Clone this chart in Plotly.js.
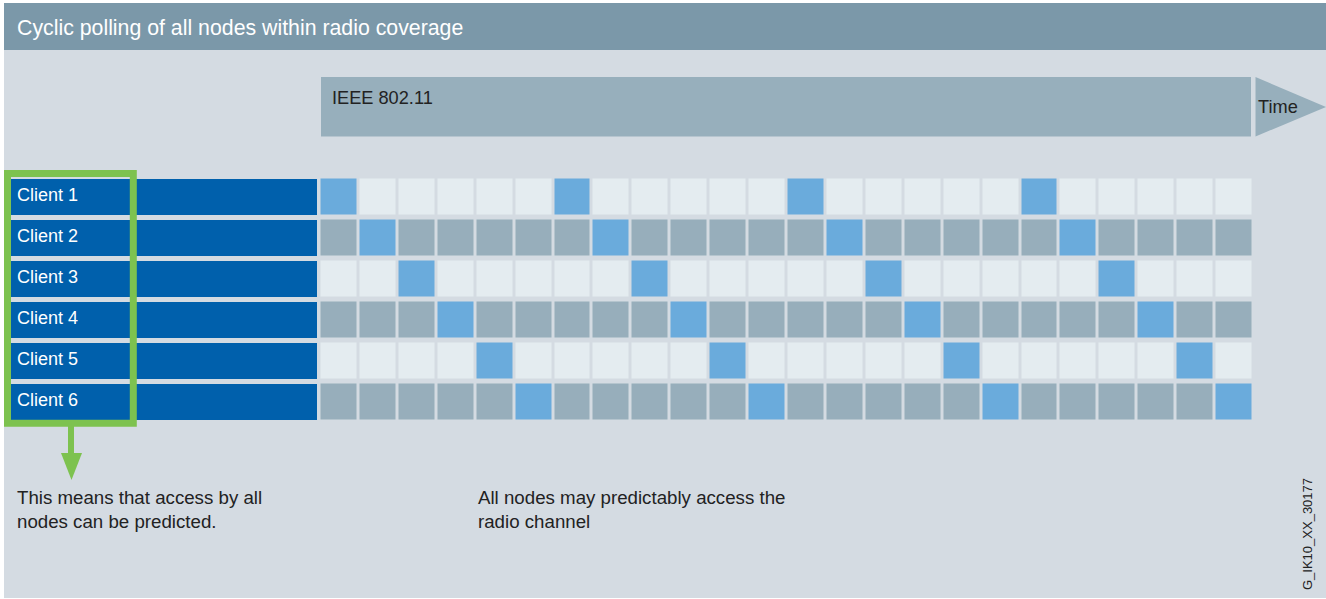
<!DOCTYPE html>
<html><head><meta charset="utf-8">
<script src="https://cdn.plot.ly/plotly-3.0.1.min.js"></script>
<style>html,body{margin:0;padding:0;background:#fff;}</style>
</head><body>
<div id="chart" style="width:1326px;height:599px"></div>
<script>
// ---- data ----
const clients = ['Client 1', 'Client 2', 'Client 3', 'Client 4', 'Client 5', 'Client 6'];
const timeSlots = [1,2,3,4,5,6,7,8,9,10,11,12,13,14,15,16,17,18,19,20,21,22,23,24];
// which client is polled in each time slot
const polledClient = [1,2,3,4,5,6,1,2,3,4,5,6,1,2,3,4,5,6,1,2,3,4,5,6];
const titleText = 'Cyclic polling of all nodes within radio coverage';
const protocolLabel = 'IEEE 802.11';
const timeLabel = 'Time';
const noteLeft = ['This means that access by all', 'nodes can be predicted.'];
const noteRight = ['All nodes may predictably access the', 'radio channel'];
const figureCode = 'G_IK10_XX_30177';

// ---- helpers ----
const W = 1326, H = 599;
const px = x => x / W;
const py = y => 1 - y / H;

// z: 0 = idle (light row), 1 = idle (dark row), 2 = polled
const z = clients.map((c, r) => timeSlots.map((s, i) => polledClient[i] === r + 1 ? 2 : (r % 2)));

const C = {
  panel: '#d4dbe2', header: '#7b98a9', bar: '#97afbc', light: '#e4ecf0', dark: '#97aebb',
  hi: '#6aabdc', blue: '#0060ac', green: '#7dc24f', text: '#222222'
};
const FONT = 'Liberation Sans, Arial, sans-serif';

const heat = {
  type: 'heatmap', x: timeSlots, y: clients, z: z, xaxis: 'x2', yaxis: 'y2',
  zmin: 0, zmax: 2, showscale: false, xgap: 3, ygap: 5, hoverinfo: 'skip',
  colorscale: [[0, C.light], [0.333, C.light], [0.334, C.dark], [0.666, C.dark], [0.667, C.hi], [1, C.hi]]
};
const labelBars = {
  type: 'bar', orientation: 'h', y: clients, x: clients.map(() => 1), xaxis: 'x3', yaxis: 'y3',
  marker: { color: C.blue, line: { width: 0 } }, width: 36 / 41, hoverinfo: 'skip'
};

const gridTop = 176.5, gridBot = 422.5;
const hidden = { visible: false, fixedrange: true, showgrid: false, zeroline: false };
const layout = {
  width: W, height: H, autosize: false,
  margin: { l: 0, r: 0, t: 0, b: 0, pad: 0 },
  paper_bgcolor: '#ffffff', plot_bgcolor: 'rgba(0,0,0,0)',
  showlegend: false,
  font: { family: FONT, color: C.text },
  xaxis2: Object.assign({}, hidden, { domain: [px(319.5), px(1253.5)], range: [0.5, 24.5], anchor: 'y2' }),
  yaxis2: Object.assign({}, hidden, { domain: [py(gridBot), py(gridTop)], type: 'category',
    categoryorder: 'array', categoryarray: clients, range: [5.5, -0.5], anchor: 'x2' }),
  xaxis3: Object.assign({}, hidden, { domain: [px(11), px(317)], range: [0, 1], anchor: 'y3' }),
  yaxis3: Object.assign({}, hidden, { domain: [py(gridBot), py(gridTop)], type: 'category',
    categoryorder: 'array', categoryarray: clients, range: [5.5, -0.5], anchor: 'x3' }),
  shapes: [
    { type: 'rect', xref: 'paper', yref: 'paper', x0: px(4), x1: px(1326), y0: py(3), y1: py(598),
      fillcolor: C.panel, line: { width: 0 }, layer: 'below' },
    { type: 'rect', xref: 'paper', yref: 'paper', x0: px(4), x1: px(1326), y0: py(3), y1: py(50),
      fillcolor: C.header, line: { width: 0 }, layer: 'below' },
    { type: 'rect', xref: 'paper', yref: 'paper', x0: px(321), x1: px(1251), y0: py(77), y1: py(136.5),
      fillcolor: C.bar, line: { width: 0 }, layer: 'below' },
    { type: 'path', xref: 'paper', yref: 'paper',
      path: `M${px(1255.5)},${py(77)} L${px(1326)},${py(107)} L${px(1255.5)},${py(136.5)} Z`,
      fillcolor: C.bar, line: { width: 0 }, layer: 'below' },
    { type: 'rect', xref: 'paper', yref: 'paper', x0: px(7.5), x1: px(133.3), y0: py(173.5), y1: py(423.3),
      fillcolor: 'rgba(0,0,0,0)', line: { color: C.green, width: 7 }, layer: 'above' },
    { type: 'line', xref: 'paper', yref: 'paper', x0: px(71), x1: px(71), y0: py(426), y1: py(455),
      line: { color: C.green, width: 6 }, layer: 'above' },
    { type: 'path', xref: 'paper', yref: 'paper',
      path: `M${px(61)},${py(453)} L${px(82)},${py(453)} L${px(71.5)},${py(480)} Z`,
      fillcolor: C.green, line: { width: 0 }, layer: 'above' }
  ],
  annotations: []
};

const ann = (text, x, y, size, color, extra) => Object.assign({
  text: text, xref: 'paper', yref: 'paper', x: px(x), y: py(y), xanchor: 'left', yanchor: 'middle',
  showarrow: false, align: 'left', font: { size: size, color: color, family: FONT }
}, extra || {});

layout.annotations.push(ann(titleText, 15, 28, 21.3, '#ffffff'));
layout.annotations.push(ann(protocolLabel, 330, 98, 18.2, C.text));
layout.annotations.push(ann(timeLabel, 1256, 107, 18.2, C.text));
clients.forEach(c => {
  layout.annotations.push({ text: c, xref: 'paper', yref: 'y3', x: px(15), y: c, xanchor: 'left',
    yanchor: 'middle', yshift: 2, showarrow: false, font: { size: 18, color: '#ffffff', family: FONT } });
});
layout.annotations.push(ann(noteLeft.join('<br>'), 15, 509.5, 18.7, C.text));
layout.annotations.push(ann(noteRight.join('<br>'), 476, 509.5, 18.7, C.text));
layout.annotations.push(ann(figureCode, 1307, 534, 13, C.text, { xanchor: 'center', textangle: -90 }));

Plotly.newPlot('chart', [heat, labelBars], layout, { staticPlot: true, displayModeBar: false });
</script>
</body></html>
